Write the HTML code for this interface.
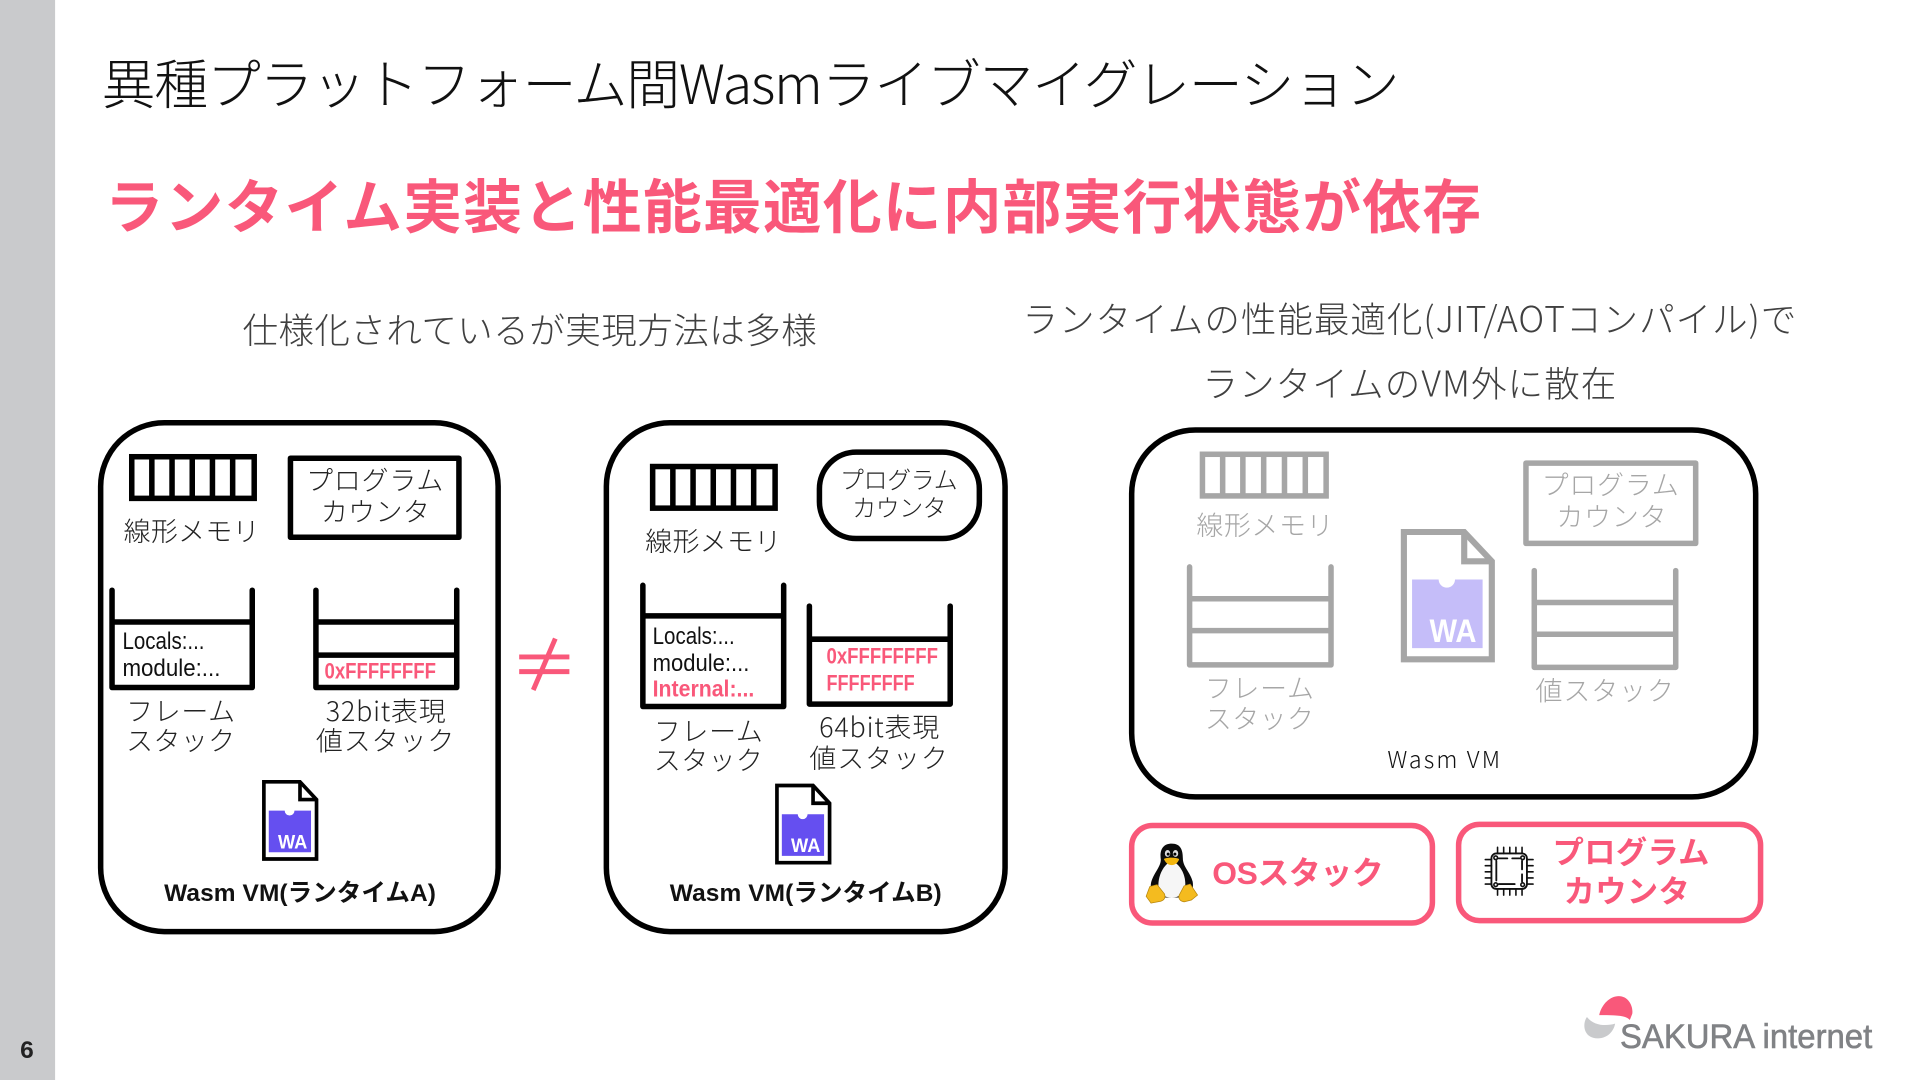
<!DOCTYPE html>
<html lang="ja"><head><meta charset="utf-8"><title>異種プラットフォーム間Wasmライブマイグレーション</title>
<style>
html,body{margin:0;padding:0;background:#fff;width:1920px;height:1080px;overflow:hidden}
svg{display:block}
text{font-family:"Liberation Sans","Noto Sans CJK JP",sans-serif;white-space:pre}
.l,.lab,.g{font-family:"Noto Sans CJK JP","Liberation Sans",sans-serif;font-weight:300}
.b{font-weight:700}
.lab{font-size:22px;fill:#222}
.g{font-size:22px;fill:#a6a6a6}
.mono{font-size:19.500px;fill:#111}
.p{fill:#f9587a;font-weight:700}
.s{fill:none;stroke:#000;stroke-width:4.5;stroke-linejoin:round;stroke-linecap:round}
.sg{fill:none;stroke:#a6a6a6;stroke-width:4.5;stroke-linejoin:round;stroke-linecap:round}
</style></head><body>
<svg xmlns="http://www.w3.org/2000/svg" width="1920" height="1080" viewBox="0 0 1568 882">
<rect width="1568" height="882" fill="#fff"/>
<rect width="45" height="882" fill="#c9cacc"/>
<text x="22" y="864" text-anchor="middle" class="b" font-size="20" fill="#222">6</text>

<text x="83" y="85" font-size="44" class="l" fill="#111" textLength="1060">異種プラットフォーム間Wasmライブマイグレーション</text>
<text x="85.500" y="186" font-size="48" class="p" textLength="1124">ランタイム実装と性能最適化に内部実行状態が依存</text>
<text x="198" y="280" font-size="29" class="l" fill="#404040" textLength="469">仕様化されているが実現方法は多様</text>
<text x="835" y="271" font-size="29" class="l" fill="#404040" textLength="632">ランタイムの性能最適化(JIT/AOTコンパイル)で</text>
<text x="982" y="324" font-size="29" class="l" fill="#404040" textLength="338">ランタイムのVM外に散在</text>

<!-- Box 1 -->
<rect class="s" x="82.200" y="345.200" width="324.600" height="415.600" rx="52"/>
<g fill="none" stroke="#000" stroke-width="4.500">
<rect x="107.600" y="373" width="100" height="34"/>
<path d="M124 373V407M140.500 373V407M157 373V407M173.500 373V407M190 373V407"/>
</g>
<text x="101" y="442" class="lab" textLength="111">線形メモリ</text>
<rect class="s" x="237.200" y="374.200" width="137.600" height="64.600"/>
<text x="250" y="400" class="lab" textLength="112">プログラム</text>
<text x="262" y="426" class="lab" textLength="89">カウンタ</text>
<path class="s" d="M91.500 482V561.500H206V482M91.500 508H206"/>
<text x="100" y="530" class="mono" lengthAdjust="spacingAndGlyphs" textLength="67">Locals:...</text>
<text x="100" y="552" class="mono" lengthAdjust="spacingAndGlyphs" textLength="80">module:...</text>
<path class="s" d="M258 482V561.500H373V482M258 508H373M258 535H373"/>
<text x="265" y="554" font-size="18" class="p" lengthAdjust="spacingAndGlyphs" textLength="91">0xFFFFFFFF</text>
<text x="103" y="589" class="lab" textLength="89">フレーム</text>
<text x="103" y="613" class="lab" textLength="89">スタック</text>
<text x="266" y="589" class="lab" textLength="98">32bit表現</text>
<text x="258" y="613" class="lab" textLength="113">値スタック</text>
<g transform="translate(214 637)">
<path d="M1.500 1.500H31L44.500 16V64.500H1.500Z" fill="#fff" stroke="#000" stroke-width="3"/>
<path d="M31 1.500V16H44.500" fill="none" stroke="#000" stroke-width="3"/>
<path d="M5.500 25H18.500A4 4 0 0 0 26.500 25H40V59H5.500Z" fill="#654ff0"/>
<text x="13" y="56" font-size="16" class="b" fill="#fff" lengthAdjust="spacingAndGlyphs" textLength="24">WA</text>
</g>
<text x="134" y="736" font-size="20" class="b" fill="#111" textLength="222">Wasm VM(ランタイムA)</text>

<!-- not equal -->
<path d="M424 536.500H465M424 548.500H465M453.500 521.500L435.500 563.500" fill="none" stroke="#f9587a" stroke-width="4"/>

<!-- Box 2 -->
<rect class="s" x="495.200" y="345.200" width="325.600" height="415.600" rx="52"/>
<g fill="none" stroke="#000" stroke-width="4.500">
<rect x="533" y="381" width="100" height="34"/>
<path d="M549.500 381V415M566 381V415M582.500 381V415M599 381V415M615.500 381V415"/>
</g>
<text x="527" y="450" class="lab" textLength="111">線形メモリ</text>
<rect class="s" x="669.200" y="369.200" width="130.600" height="70.600" rx="30"/>
<text x="686" y="399" class="lab" style="font-size:19.500px" textLength="96">プログラム</text>
<text x="696" y="422" class="lab" style="font-size:19.500px" textLength="77">カウンタ</text>
<path class="s" d="M525 478V577H640V478M525 503H640"/>
<text x="533" y="526" class="mono" lengthAdjust="spacingAndGlyphs" textLength="67">Locals:...</text>
<text x="533" y="548" class="mono" lengthAdjust="spacingAndGlyphs" textLength="79">module:...</text>
<text x="533" y="569" font-size="19" class="p" lengthAdjust="spacingAndGlyphs" textLength="83">Internal:...</text>
<path class="s" d="M661 495V575H776V495M661 522H776"/>
<text x="675" y="542" font-size="18" class="p" lengthAdjust="spacingAndGlyphs" textLength="91">0xFFFFFFFF</text>
<text x="675" y="564" font-size="18" class="p" lengthAdjust="spacingAndGlyphs" textLength="72">FFFFFFFF</text>
<text x="534" y="605" class="lab" textLength="89">フレーム</text>
<text x="534" y="629" class="lab" textLength="89">スタック</text>
<text x="669" y="602" class="lab" textLength="98">64bit表現</text>
<text x="661" y="627" class="lab" textLength="113">値スタック</text>
<g transform="translate(633 640)">
<path d="M1.500 1.500H31L44.500 16V64.500H1.500Z" fill="#fff" stroke="#000" stroke-width="3"/>
<path d="M31 1.500V16H44.500" fill="none" stroke="#000" stroke-width="3"/>
<path d="M5.500 25H18.500A4 4 0 0 0 26.500 25H40V59H5.500Z" fill="#654ff0"/>
<text x="13" y="56" font-size="16" class="b" fill="#fff" lengthAdjust="spacingAndGlyphs" textLength="24">WA</text>
</g>
<text x="547" y="736" font-size="20" class="b" fill="#111" textLength="222">Wasm VM(ランタイムB)</text>

<!-- Box 3 -->
<rect class="s" x="924.200" y="351.200" width="509.600" height="299.600" rx="52"/>
<g fill="none" stroke="#a6a6a6" stroke-width="4.500">
<rect x="982" y="371" width="101" height="34"/>
<path d="M998.500 371V405M1015 371V405M1032 371V405M1049 371V405M1066 371V405"/>
</g>
<text x="977" y="437" class="g" textLength="112">線形メモリ</text>
<rect class="sg" x="1246.200" y="378.200" width="138.600" height="65.600"/>
<text x="1259" y="404" class="g" textLength="112">プログラム</text>
<text x="1271" y="430" class="g" textLength="90">カウンタ</text>
<path class="sg" d="M971.500 463V543H1087V463M971.500 489H1087M971.500 515H1087"/>
<text x="984" y="570" class="g" textLength="89">フレーム</text>
<text x="984" y="595" class="g" textLength="89">スタック</text>
<path class="sg" d="M1253 466V545H1368.500V466M1253 492H1368.500M1253 518H1368.500"/>
<text x="1254" y="572" class="g" textLength="113">値スタック</text>
<g transform="translate(1144 432) scale(1.670 1.650)">
<path d="M1.500 1.500H31L44.500 16V64.500H1.500Z" fill="#fff" stroke="#a6a6a6" stroke-width="3"/>
<path d="M31 1.500V16H44.500" fill="none" stroke="#a6a6a6" stroke-width="3"/>
<path d="M5.500 25H18.500A4 4 0 0 0 26.500 25H40V59H5.500Z" fill="#c5bdf9"/>
<text x="14" y="56" font-size="16" class="b" fill="#fff" lengthAdjust="spacingAndGlyphs" textLength="23">WA</text>
</g>
<text x="1133" y="627" font-size="19" class="l" fill="#111" textLength="92">Wasm VM</text>

<!-- Pink boxes -->
<rect x="924.200" y="674.200" width="245.600" height="79.600" rx="17" fill="#fff" stroke="#f9587a" stroke-width="4.500"/>
<rect x="1191.200" y="673.200" width="246.600" height="78.600" rx="17" fill="#fff" stroke="#f9587a" stroke-width="4.500"/>
<text x="990" y="722" font-size="26" class="p" textLength="140">OSスタック</text>
<text x="1268" y="705" font-size="25.500" class="p" textLength="128">プログラム</text>
<text x="1277" y="737" font-size="25.500" class="p" textLength="103">カウンタ</text>

<!-- Tux -->
<g transform="translate(936 688)">
<path d="M21 1C13 1 11 7 12 14C12 20 6 25 4 33C3 39 5 43 9 45L32 45C37 43 39 38 38 32C36 24 30 20 30 13C30 6 28 1 21 1Z" fill="#0b0b0b"/>
<path d="M21 15C14 18 10 27 10 35C10 42 14 45 21 45C28 45 32 41 32 34C32 26 28 18 21 15Z" fill="#f6f6f6"/>
<ellipse cx="17.500" cy="9" rx="2.200" ry="2.800" fill="#ddd"/><ellipse cx="24" cy="9" rx="2.200" ry="2.800" fill="#ddd"/>
<circle cx="18" cy="9.500" r="1.200" fill="#000"/><circle cx="23.500" cy="9.500" r="1.200" fill="#000"/>
<path d="M14.500 13.500C17 12 24 12 27 13.500C26 17 23 18.500 21 18.500C18.500 18.500 16 17 14.500 13.500Z" fill="#f2b50c"/>
<path d="M0 44L3 36L9 34.500L15 42C16 45 15 47 12 48L4 49.500Z" fill="#f4bb1f" stroke="#b8860b" stroke-width=".6"/>
<path d="M42 43L36 34L31 35.500L27 43C26 46 28 48 31 48.500L37 47Z" fill="#f4bb1f" stroke="#b8860b" stroke-width=".6"/>
</g>

<!-- Chip -->
<g transform="translate(1212 691)" fill="none" stroke="#111" stroke-width="1.300" stroke-linecap="round">
<rect x="6" y="6" width="29" height="29" rx="4" stroke-width="1.500"/>
<path d="M10 12V28M12 10H19M23 10H29M31 12V19M31 23V29M12 31H25" stroke-width="1.500"/>
<circle cx="9.500" cy="9.500" r="1.500"/><circle cx="31.500" cy="9.500" r="1.500"/><circle cx="9.500" cy="31.500" r="1.500"/><circle cx="31.500" cy="31.500" r="1.500"/>
<path d="M11 1V6M16 1V6M21 1V6M26 1V6M31 1V6M11 35V40M16 35V40M21 35V40M26 35V40M31 35V40M1 11H6M1 16H6M1 21H6M1 26H6M1 31H6M35 11H40M35 16H40M35 21H40M35 26H40M35 31H40"/>
</g>

<!-- Logo -->
<path d="M1306 829C1308 820 1315 813.500 1322 813.500C1330 813.500 1334 822 1333 828L1331 833C1328 829 1318 829 1306 829Z" fill="#f9587a"/>
<path d="M1296 830.500C1292 836 1293 848 1305 848C1313 848 1318 842 1319 836C1312 838 1302 838 1296 830.500Z" fill="#c9cacc"/>
<text x="1323" y="856" font-size="28" fill="#808285" stroke="#808285" stroke-width=".5" lengthAdjust="spacingAndGlyphs" textLength="206">SAKURA internet</text>
</svg>
</body></html>
